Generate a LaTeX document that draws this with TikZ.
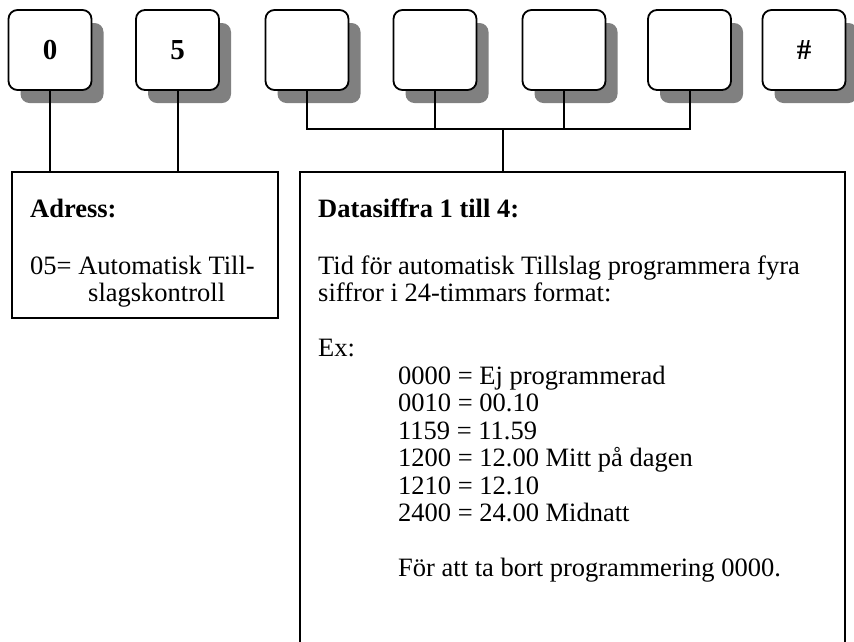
\documentclass[tikz,border=0pt]{standalone}
\usepackage{fontspec}
\setmainfont{Liberation Serif}
\usetikzlibrary{shadows}
\definecolor{shadowgray}{RGB}{128,128,128}
\tikzset{
  keybox/.style={draw, line width=1.8pt, rounded corners=9pt, fill=white,
    minimum width=83pt, minimum height=80pt, inner sep=0pt,
    font=\fontsize{29}{30}\selectfont\bfseries,
    drop shadow={shadow xshift=12pt, shadow yshift=-13pt, fill=shadowgray, opacity=1}},
  infobox/.style={draw, line width=2pt, inner sep=0pt},
  conn/.style={line width=2pt},
  txt/.style={anchor=base west, inner sep=0pt, font=\fontsize{26.5}{28}\selectfont},
  head/.style={txt, font=\fontsize{26.5}{28}\selectfont\bfseries},
}
\begin{document}
\begin{tikzpicture}[x=1pt, y=-1pt]
\clip (0,0) rectangle (854,641);
\fill[white] (0,0) rectangle (854,641);
% keys
\node[keybox] (k1) at (50,50) {0};
\node[keybox] (k2) at (177.5,50) {5};
\node[keybox] (k3) at (307,50) {};
\node[keybox] (k4) at (435,50) {};
\node[keybox] (k5) at (564,50) {};
\node[keybox] (k6) at (689.5,50) {};
\node[keybox] (k7) at (804,50) {\#};
% boxes
\node[infobox, minimum width=266pt, minimum height=146pt] (lbox) at (145,245) {};
\node[infobox, minimum width=545pt, minimum height=520pt] (rbox) at (572.5,432) {};
% connectors
\coordinate (bus) at (0,129);
\coordinate (trunk) at (503,129);
\draw[conn] (k1.south) -- (k1.south |- lbox.north);
\draw[conn] (k2.south) -- (k2.south |- lbox.north);
\draw[conn] (k3.south) -- (k3.south |- bus) -- (k6.south |- bus) -- (k6.south);
\draw[conn] (k4.south) -- (k4.south |- bus);
\draw[conn] (k5.south) -- (k5.south |- bus);
\draw[conn] (trunk) -- (trunk |- rbox.north);
% left text
\node[head] (la) at (30,217) {Adress:};
\node[txt] (lb) at (30,274) {05= Automatisk Till-};
\node[txt] (lc) at (88,301) {slagskontroll};
% right text
\node[head] (ra) at (318,217) {Datasiffra 1 till 4:};
\node[txt] (rb) at (318,274) {Tid för automatisk Tillslag programmera fyra};
\node[txt] (rc) at (318,301) {siffror i 24-timmars format:};
\node[txt] (rd) at (318,356) {Ex:};
\node[txt] (re1) at (398,384) {0000 = Ej programmerad};
\node[txt] (re2) at (398,411.5) {0010 = 00.10};
\node[txt] (re3) at (398,439) {1159 = 11.59};
\node[txt] (re4) at (398,466.5) {1200 = 12.00 Mitt på dagen};
\node[txt] (re5) at (398,494) {1210 = 12.10};
\node[txt] (re6) at (398,521.5) {2400 = 24.00 Midnatt};
\node[txt] (rf) at (398,576) {För att ta bort programmering 0000.};
\end{tikzpicture}
\end{document}
